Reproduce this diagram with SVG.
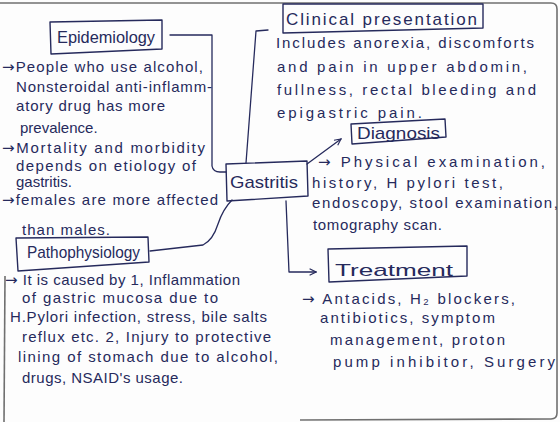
<svg xmlns="http://www.w3.org/2000/svg" width="560" height="422" viewBox="0 0 560 422">
<style>
.ink{fill:#262a5c;font-family:"Liberation Sans","DejaVu Sans",sans-serif;}
.t{font-size:15px;}
.h{font-size:17px;}
.a{font-family:"DejaVu Sans",sans-serif;}
.box{fill:none;stroke:#262a5c;stroke-width:1.4;stroke-linejoin:round;}
.con{fill:none;stroke:#262a5c;stroke-width:1.3;stroke-linecap:round;stroke-linejoin:round;}
.page{fill:none;stroke:#707070;stroke-width:1.6;}
</style>
<defs>
<marker id="arr" viewBox="0 0 10 10" refX="9" refY="5" markerWidth="8" markerHeight="8" markerUnits="userSpaceOnUse" orient="auto">
<path d="M1,1 L9,5 L1,9" fill="none" stroke="#262a5c" stroke-width="1.4"/>
</marker>
</defs>
<rect width="560" height="422" fill="#fdfdfd"/>
<g id="page">
<path class="page" d="M0,3 L551,3 Q557,3 557,9 L557,413 Q557,419 551,419 L300,420"/>
<path class="page" d="M5,276 L4,422"/>
</g>
<g id="connectors">
<path class="con" d="M170,35 L212,35 L212,166 Q213,172 220,172 L226,172"/>
<path class="con" d="M246,163 L256,31 L268,30"/>
<path class="con" d="M307,164 L341,139" marker-end="url(#arr)"/>
<path class="con" d="M286,201 L289,272 L316,272" marker-end="url(#arr)"/>
<path class="con" d="M150,251 L203,245 Q213,240 218,224 Q223,209 232,200"/>
</g>
<g id="gastritis">
<path class="box" d="M226,164 L307,161 L308,196 L227,201 Z"/>
<text class="ink h" x="230" y="188" textLength="68" lengthAdjust="spacingAndGlyphs">Gastritis</text>
</g>
<g id="epidemiology">
<path class="box" d="M50,22 L162,20 L162,49 L51,54 Z"/>
<text class="ink h" x="57" y="43" textLength="98" lengthAdjust="spacingAndGlyphs">Epidemiology</text>
<text class="ink t" x="2" y="72" textLength="201"><tspan class="a">→</tspan>People who use alcohol,</text>
<text class="ink t" x="16" y="92" textLength="196">Nonsteroidal anti-inflamm-</text>
<text class="ink t" x="16" y="111" textLength="149">atory drug has more</text>
<text class="ink t" x="20" y="133">prevalence.</text>
<text class="ink t" x="2" y="153" textLength="203"><tspan class="a">→</tspan>Mortality and morbidity</text>
<text class="ink t" x="16" y="171" textLength="180">depends on etiology of</text>
<text class="ink t" x="16" y="187">gastritis.</text>
<text class="ink t" x="2" y="205" textLength="216"><tspan class="a">→</tspan>females are more affected</text>
<text class="ink t" x="22" y="235" textLength="88">than males.</text>
</g>
<g id="clinical">
<path class="box" d="M283,4 L483,4 L483,28 L283,33 Z"/>
<text class="ink h" x="286" y="25" textLength="191">Clinical presentation</text>
<text class="ink t" x="276" y="48" textLength="258">Includes anorexia, discomforts</text>
<text class="ink t" x="277" y="72" textLength="250">and pain in upper abdomin,</text>
<text class="ink t" x="277" y="95" textLength="259">fullness, rectal bleeding and</text>
<text class="ink t" x="277" y="118" textLength="145">epigastric pain.</text>
</g>
<g id="diagnosis">
<path class="box" d="M351,124 L445,119 L446,137 L352,144 Z"/>
<text class="ink h" x="357" y="139" textLength="83" lengthAdjust="spacingAndGlyphs">Diagnosis</text>
<text class="ink t" x="318" y="167" textLength="227"><tspan class="a">→</tspan> Physical examination,</text>
<text class="ink t" x="312" y="188" textLength="191">history, H pylori test,</text>
<text class="ink t" x="312" y="208" textLength="246">endoscopy, stool examination,</text>
<text class="ink t" x="313" y="230" textLength="129">tomography scan.</text>
</g>
<g id="treatment">
<path class="box" d="M328,249 L467,246 L467,276 L329,282 Z"/>
<text class="ink h" x="335" y="276" textLength="118" lengthAdjust="spacingAndGlyphs">Treatment</text>
<text class="ink t" x="302" y="304" textLength="213"><tspan class="a">→</tspan> Antacids, H₂ blockers,</text>
<text class="ink t" x="320" y="323" textLength="175">antibiotics, symptom</text>
<text class="ink t" x="330" y="345" textLength="175">management, proton</text>
<text class="ink t" x="333" y="367" textLength="222">pump inhibitor, Surgery</text>
</g>
<g id="pathophysiology">
<path class="box" d="M16,238 L148,237 L149,262 L18,271 Z"/>
<text class="ink h" x="27" y="258" textLength="113" lengthAdjust="spacingAndGlyphs">Pathophysiology</text>
<text class="ink t" x="5" y="285" textLength="235"><tspan class="a">→</tspan> It is caused by 1, Inflammation</text>
<text class="ink t" x="22" y="303" textLength="196">of gastric mucosa due to</text>
<text class="ink t" x="10" y="322" textLength="257">H.Pylori infection, stress, bile salts</text>
<text class="ink t" x="22" y="342" textLength="249">reflux etc. 2, Injury to protective</text>
<text class="ink t" x="18" y="362" textLength="260">lining of stomach due to alcohol,</text>
<text class="ink t" x="22" y="383" textLength="161">drugs, NSAID's usage.</text>
</g>
</svg>
